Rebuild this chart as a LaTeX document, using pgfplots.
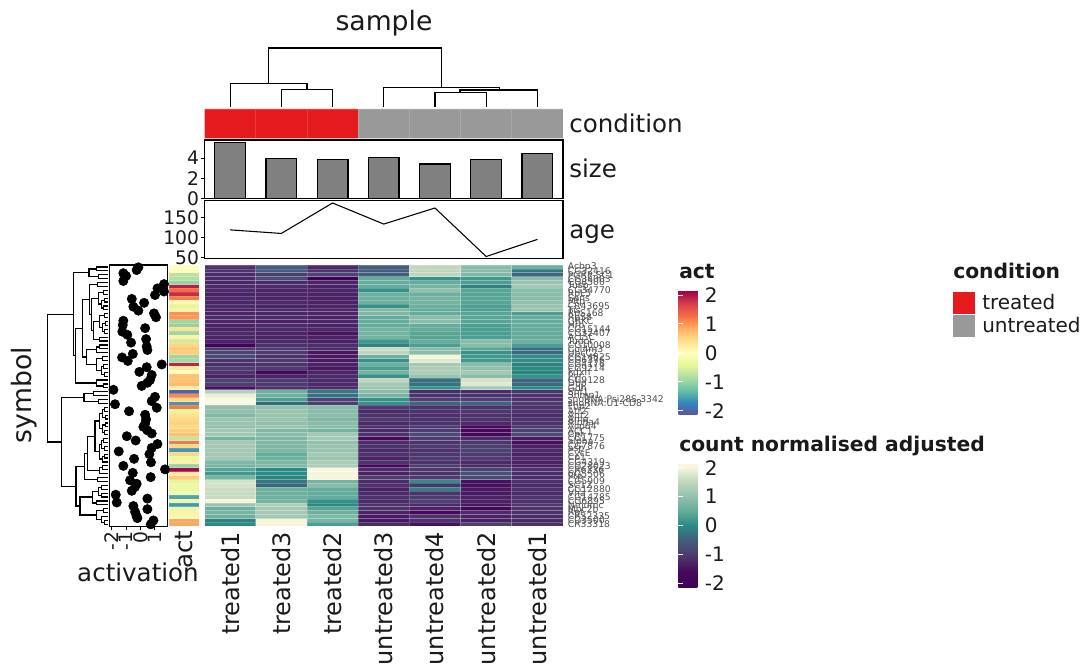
\documentclass[border=0pt]{standalone}
\usepackage{fontspec}
\setmainfont{DejaVu Sans}
\usepackage{pgfplots}
\usepackage{pgfplotstable}
\pgfplotsset{compat=1.18}

% picture units: 1 reference pixel = 0.75pt
\definecolor{ink}{HTML}{1A1A1A}
\definecolor{soft}{HTML}{4D4D4D}
\definecolor{condred}{HTML}{E41A1C}
\definecolor{condgrey}{HTML}{999999}
\newcommand\labelsz{\fontsize{18.4}{18.4}\selectfont}
\newcommand\keysz{\fontsize{15}{15}\selectfont}
\newcommand\keybf{\fontsize{15.2}{15.2}\selectfont\bfseries}

% heatmap tiles, one reference cell each
\pgfdeclareplotmark{heatcell}{\pgfpathrectangle{\pgfpoint{-19.2pt}{-1.4625pt}}{\pgfpoint{38.4pt}{2.925pt}}\pgfusepathqfillstroke}
\pgfdeclareplotmark{actcell}{\pgfpathrectangle{\pgfpoint{-11.14pt}{-1.4625pt}}{\pgfpoint{22.28pt}{2.925pt}}\pgfusepathqfillstroke}

\pgfplotsset{
  colormap={spectral}{
    rgb255=(94,79,162) rgb255=(50,136,189) rgb255=(102,194,165) rgb255=(171,221,164)
    rgb255=(230,245,152) rgb255=(255,255,191) rgb255=(254,224,139) rgb255=(253,174,97)
    rgb255=(244,109,67) rgb255=(213,62,79) rgb255=(158,1,66)},
  colormap={cnt}{
    rgb255(0pt)=(63,0,89) rgb255(11pt)=(70,8,90) rgb255(23pt)=(78,60,112)
    rgb255(33pt)=(66,94,124) rgb255(43pt)=(42,138,132) rgb255(53pt)=(100,172,155)
    rgb255(63pt)=(146,192,173) rgb255(73pt)=(191,213,190) rgb255(83pt)=(245,245,220)
    rgb255(86pt)=(248,248,224)},
  every axis/.append style={/pgf/number format/assume math mode=true},
  panel/.style n args={4}{at={(#1*0.75pt,#2*0.75pt)},anchor=south west,scale only axis,
    width=#3*0.75pt,height=#4*0.75pt},
  samplex/.style={xmin=0.5,xmax=7.5},
  frame/.style={axis line style={black,line width=1pt},tick style={black,line width=0.8pt},
    tick align=outside,major tick length=3pt,xtick=\empty,ytick pos=left,
    yticklabel style={font=\fontsize{14}{14}\selectfont,text=ink},tick label style={inner sep=1pt}},
  barkey/.style={xmin=0,xmax=1,ymin=-2.15,ymax=2.15,xtick=\empty,ytick={-2,-1,0,1,2},
    axis line style={draw=none},tick align=inside,major tick length=3.75pt,
    tick style={white,line width=.7pt},major tick style={white,line width=.7pt},
    ytick pos=both,yticklabel pos=right,
    yticklabel style={font=\keysz,text=ink,inner sep=1pt}},
  barshade/.style={hide axis,xmin=0,xmax=1,ymin=0,ymax=1,point meta min=-2.15,point meta max=2.15,
    colorbar,colorbar shift/.style={},
    colorbar style={at={(parent axis.south west)},anchor=south west,scale only axis,
      width=25*0.75pt,height=124.3*0.75pt,ytick=\empty,axis line style={draw=none}}},
}

% one value per cell: treated1 treated3 treated2 untreated3 untreated4 untreated2 untreated1
\pgfplotstableread[row sep=\\]{
z\\
-1.1\\ -.5\\ -1.2\\ -.5\\ 1.5\\ .9\\ .6\\
-1.1\\ -.5\\ -1.1\\ -.5\\ 1.5\\ .9\\ -.2\\
-1.2\\ -1.0\\ -.85\\ -.5\\ 1.5\\ .8\\ -.4\\
-1.2\\ -.75\\ -2.1\\ .5\\ .1\\ .2\\ .9\\
-1.25\\ -1.2\\ -1.25\\ .5\\ .5\\ .3\\ 1.1\\
-1.2\\ -1.2\\ -1.3\\ .5\\ .7\\ -.1\\ 1.2\\
-1.2\\ -1.25\\ -1.25\\ .1\\ 1.0\\ .4\\ .9\\
-1.3\\ -1.25\\ -1.3\\ .6\\ .6\\ .4\\ .9\\
-1.2\\ -1.25\\ -1.3\\ .6\\ .7\\ .4\\ .9\\
-1.25\\ -1.2\\ -1.3\\ .6\\ .7\\ .4\\ 1.0\\
-1.2\\ -1.25\\ -1.25\\ .1\\ .6\\ .3\\ 1.1\\
-1.25\\ -1.2\\ -1.25\\ .8\\ .5\\ .3\\ 1.1\\
-1.25\\ -1.25\\ -1.25\\ .8\\ .5\\ .4\\ .3\\
-1.2\\ -1.2\\ -1.3\\ .5\\ .9\\ .4\\ .5\\
-1.25\\ -1.3\\ -1.25\\ .5\\ .9\\ .4\\ .5\\
-1.3\\ -1.2\\ -1.3\\ .5\\ .5\\ .3\\ .5\\
-1.25\\ -1.2\\ -1.2\\ .7\\ .5\\ .3\\ .5\\
-1.2\\ -1.25\\ -1.45\\ .7\\ .4\\ .3\\ .5\\
-1.25\\ -1.25\\ -1.3\\ .7\\ .4\\ .3\\ .5\\
-1.3\\ -1.2\\ -1.3\\ .2\\ .5\\ .9\\ .6\\
-1.9\\ -1.1\\ -1.15\\ -.1\\ .3\\ .9\\ .3\\
-1.0\\ -1.0\\ -1.2\\ 1.6\\ .9\\ .4\\ -.3\\
-.85\\ -1.0\\ -1.45\\ 1.5\\ .9\\ .1\\ -.4\\
-.8\\ -1.1\\ -1.4\\ .6\\ 2.0\\ .2\\ .05\\
-1.1\\ -1.0\\ -1.4\\ .1\\ 1.8\\ .2\\ .05\\
-1.15\\ -1.1\\ -1.3\\ .6\\ 1.2\\ .9\\ -.1\\
-1.0\\ -1.0\\ -1.4\\ .3\\ 1.3\\ 1.0\\ .0\\
-1.1\\ -1.6\\ -1.25\\ .7\\ 1.3\\ 1.2\\ -.1\\
-1.3\\ -1.3\\ -1.2\\ .1\\ 1.1\\ .9\\ .1\\
-.9\\ -1.0\\ -1.2\\ 1.5\\ -.3\\ 1.7\\ -.4\\
-.95\\ -1.0\\ -1.2\\ 1.2\\ -.3\\ 1.8\\ -.4\\
-1.5\\ -1.1\\ -1.2\\ 1.1\\ .1\\ 1.2\\ .0\\
1.4\\ .6\\ -.2\\ .9\\ -1.2\\ -1.2\\ -1.1\\
1.9\\ .6\\ -.3\\ .7\\ -1.1\\ -1.1\\ -1.1\\
2.15\\ .3\\ -.9\\ .1\\ -.9\\ -.9\\ -1.1\\
2.15\\ -.4\\ -.95\\ .1\\ -.4\\ -.4\\ -1.0\\
1.0\\ 1.0\\ .9\\ -1.0\\ -1.1\\ -1.1\\ -1.1\\
1.0\\ 1.1\\ .9\\ -1.2\\ -1.1\\ -1.05\\ -1.1\\
.8\\ 1.1\\ .9\\ -1.1\\ -1.15\\ -1.1\\ -1.2\\
1.1\\ 1.1\\ .8\\ -1.0\\ -1.1\\ -1.1\\ -1.1\\
1.1\\ 1.0\\ .9\\ -1.2\\ -1.1\\ -1.2\\ -1.1\\
1.0\\ 1.1\\ .9\\ -1.1\\ -1.0\\ -1.6\\ -1.0\\
1.2\\ .8\\ .7\\ -1.2\\ -1.0\\ -1.6\\ -.9\\
1.2\\ .9\\ 1.2\\ -1.1\\ -.8\\ -1.7\\ -.8\\
.7\\ .8\\ 1.2\\ -1.6\\ -1.0\\ -1.2\\ -1.4\\
1.2\\ .8\\ 1.0\\ -1.2\\ -1.1\\ -1.05\\ -1.5\\
1.2\\ .8\\ 1.1\\ -1.1\\ -1.0\\ -.95\\ -1.3\\
1.2\\ .8\\ 1.1\\ -1.2\\ -1.1\\ -.9\\ -1.2\\
1.2\\ .5\\ 1.2\\ -1.1\\ -1.05\\ -1.0\\ -1.3\\
1.2\\ .6\\ 1.1\\ -1.3\\ -1.0\\ -1.0\\ -1.2\\
.8\\ .8\\ 1.3\\ -1.1\\ -1.1\\ -1.2\\ -1.3\\
.7\\ .8\\ 1.3\\ -1.7\\ -1.0\\ -1.2\\ -1.3\\
.4\\ 0\\ 2.1\\ -1.2\\ -1.05\\ -.9\\ -1.1\\
.2\\ 0\\ 2.0\\ -1.3\\ -1.1\\ -.7\\ -1.2\\
.7\\ -.1\\ 2.0\\ -1.0\\ -1.0\\ -.8\\ -1.2\\
1.7\\ -.2\\ .7\\ -1.2\\ .05\\ -1.5\\ -1.1\\
1.7\\ -.4\\ .9\\ -1.1\\ -1.1\\ -1.5\\ -1.2\\
1.6\\ .6\\ .5\\ -1.3\\ -.1\\ -1.4\\ -1.1\\
1.6\\ .6\\ .5\\ -1.2\\ -1.1\\ -1.4\\ -1.2\\
1.6\\ .6\\ .5\\ -1.1\\ -1.0\\ -1.3\\ -1.1\\
2.0\\ .7\\ .1\\ -1.2\\ -.9\\ -1.3\\ -1.1\\
1.1\\ 1.3\\ .0\\ -1.1\\ -1.2\\ -1.4\\ -1.05\\
.6\\ 1.2\\ .4\\ -1.1\\ -1.3\\ -1.7\\ -1.1\\
.7\\ 1.2\\ .6\\ -1.3\\ -1.6\\ -1.2\\ -1.1\\
.6\\ 1.2\\ .8\\ -1.4\\ -1.1\\ -1.3\\ -1.2\\
-.1\\ 2.0\\ .7\\ -1.4\\ -1.1\\ -1.3\\ -1.2\\
0\\ 2.0\\ .3\\ -1.2\\ -1.5\\ -.9\\ -1.1\\
}\heat
% row and column of each cell; the .5 guards against rounding in the division
\pgfplotstablecreatecol[expr={floor((\pgfplotstablerow+0.5)/7)+1}]{cy}{\heat}
\pgfplotstablecreatecol[expr={\pgfplotstablerow-7*floor((\pgfplotstablerow+0.5)/7)+1}]{cx}{\heat}

% act annotation, one value per row
\pgfplotstableread[row sep=\\]{
z\\
-.02\\ -.05\\ -.75\\ -.8\\ -1.0\\ 1.95\\ 1.3\\ 1.85\\
1.2\\ .1\\ -.4\\ .2\\ 1.05\\ 1.0\\ -.95\\ -1.0\\
.4\\ -.95\\ .2\\ -.6\\ .5\\ .65\\ .6\\ -.95\\
-.9\\ 1.9\\ .3\\ -.02\\ .7\\ .7\\ .75\\ .25\\
-2.0\\ 1.1\\ .5\\ -1.6\\ 1.2\\ -.4\\ .4\\ .5\\
.55\\ .5\\ .6\\ .7\\ -.7\\ 1.2\\ .5\\ -1.6\\
.5\\ -.3\\ .2\\ -1.0\\ 2.1\\ .3\\ .6\\ -.4\\
-.3\\ -.3\\ -.2\\ -1.5\\ -.3\\ -1.6\\ -.3\\ .2\\
-.2\\ .9\\ .9\\
}\act
\pgfplotstablecreatecol[expr={\pgfplotstablerow+1}]{cy}{\act}

\begin{document}
\begin{tikzpicture}
\path[clip,use as bounding box] (0,0) rectangle (810pt,500.25pt);

% sample dendrogram
\begin{axis}[panel={204.5}{560}{358.5}{60},samplex,ymin=0,ymax=60,hide axis,clip=false,unbounded coords=jump]
  \addplot[black,line width=0.9pt] coordinates {
    (1,0)(1,23.4)(2.5,23.4)(2.5,17.4) (nan,nan)
    (2,0)(2,17.4)(3,17.4)(3,0) (nan,nan)
    (1.75,23.4)(1.75,59)(5.12,59)(5.12,19.4) (nan,nan)
    (4,0)(4,19.4)(6.26,19.4)(6.26,17) (nan,nan)
    (5.49,14.4)(5.49,17)(7,17)(7,0) (nan,nan)
    (5,0)(5,14.4)(6,14.4)(6,0)
  };
\end{axis}

% condition
\begin{axis}[panel={204.5}{528.5}{358.5}{29.5},samplex,ymin=0,ymax=1,hide axis]
  \addplot[ybar,bar width=1,bar shift=0pt,fill=condred,draw=white,draw opacity=.15,line width=.5pt]
    coordinates {(1,1)(2,1)(3,1)};
  \addplot[ybar,bar width=1,bar shift=0pt,fill=condgrey,draw=white,draw opacity=.15,line width=.5pt]
    coordinates {(4,1)(5,1)(6,1)(7,1)};
\end{axis}

% size
\begin{axis}[panel={204.5}{468.5}{358.5}{58.5},samplex,frame,ymin=0,ymax=5.79,ytick={0,2,4}]
  \addplot[ybar,bar width=0.6,bar shift=0pt,fill=black!50,draw=black,line width=1pt] coordinates {
    (1,5.53)(2,3.94)(3,3.88)(4,4.08)(5,3.42)(6,3.88)(7,4.43)};
\end{axis}

% age
\begin{axis}[panel={204.5}{408.3}{358.5}{58.4},samplex,frame,ymin=46.5,ymax=193.4,ytick={50,100,150}]
  \addplot[black,line width=.8pt] coordinates {
    (1,119)(2,110)(3,186.6)(4,133.6)(5,174)(6,52)(7,95)};
\end{axis}

% main heatmap
\begin{axis}[panel={204.5}{140.7}{358.5}{261.3},y dir=reverse,
    xmin=0.5,xmax=7.5,ymin=0.5,ymax=67.5,axis line style={draw=none},
    colormap name=cnt,point meta min=-2.15,point meta max=2.15,
    xtick={1,...,7},xticklabels={treated1,treated3,treated2,untreated3,untreated4,untreated2,untreated1},
    xticklabel style={rotate=90,anchor=east,font=\fontsize{18}{18}\selectfont,text=ink,inner sep=0pt},
    xtick pos=bottom,major tick length=0pt,tick style={draw=none},
    xticklabel shift=4pt,
    ytick={1,...,67},ytick pos=right,yticklabel pos=right,
    yticklabel style={font=\fontsize{6.9}{6.9}\selectfont,text=soft,inner sep=0pt},
    yticklabel shift=3.5pt,
    yticklabels={Acbp3,CG32416,PGRP-SC1,CG34003,CG8500,Tusp,CG34770,RpL5,Sans,Mtp,CR43695,Tis,RpS168,RpS8,GRKC,Hrb,CG15144,CG32407,Act5C,Tudor,CG10008,Col4m3,UbcC2,CG14825,CG6376,CG4176,CG9214,Fdxh,Pvr,CG9128,Dbp,Gdh,
      Shf1,Snmp1,snoRNA:Psi28S-3342,snoRNA:U1-CD8,Fbp2,Atf2,Ant2,Ama,Alpha4,Acp64,ACC1,Cpr,CG1775,alpha,CG7876,asp,CycE,Cp1,CG4319,CG28023,CR6336,CG5506,Ptp,CG5909,SC12,CG12880,Vha,CG14785,CG6895,Nmdmc,Mbc2b,Rpt,CR32335,CG3500,CR33318}]
  \addplot[scatter,only marks,mark=heatcell,point meta=explicit,
      scatter/use mapped color={draw=white,fill=mapped color},
      mark options={draw opacity=.2,line width=.5pt}]
    table[x=cx,y=cy,meta=z]{\heat};
\end{axis}

% act strip
\begin{axis}[panel={169.3}{140.7}{29.7}{261.3},y dir=reverse,
    xmin=0.5,xmax=1.5,ymin=0.5,ymax=67.5,axis line style={draw=none},
    colormap name=spectral,point meta min=-2.15,point meta max=2.15,
    xtick={1},xticklabels={act},ytick=\empty,
    xticklabel style={rotate=90,anchor=east,font=\labelsz,text=ink,inner sep=0pt},
    xticklabel shift=3pt,major tick length=0pt,tick style={draw=none}]
  \addplot[scatter,only marks,mark=actcell,point meta=explicit,
      scatter/use mapped color={draw=white,fill=mapped color},
      mark options={draw opacity=.12,line width=.5pt}]
    table[x expr=1,y=cy,meta=z]{\act};
\end{axis}

% activation scatter
\begin{axis}[panel={109.3}{140.7}{58.4}{261.3},y dir=reverse,clip=false,
    xmin=-2.17,xmax=1.907,ymin=0.5,ymax=67.5,ytick=\empty,
    axis line style={black,line width=1pt},
    xtick={-2,-1,0,1},xtick pos=bottom,tick align=outside,major tick length=3pt,
    tick style={black,line width=.8pt},
    xticklabel style={rotate=90,anchor=east,font=\fontsize{14}{14}\selectfont,text=ink,inner sep=1pt}]
  \addplot[only marks,mark=*,mark size=3.5pt,black] coordinates {
    (-.14,1.1)(-.26,1.8)(-1.19,2.6)(-1.0,3.3)(-1.19,4.6)(1.65,5.4)(1.19,6.5)(1.65,7.3)(1.02,8.2)
    (-.6,9.2)(.26,10.2)(-.49,11.2)(-.14,12.2)(.95,12.9)(1.09,13.9)(-1.19,14.8)(-1.23,15.9)(.33,16.7)
    (-1.26,17.6)(-.91,18.4)(.4,19.5)(-.65,20.4)(.44,21.4)(.49,22.3)(-.53,23.3)(-1.28,24.2)(-.88,25.1)
    (1.49,26)(.44,26.7)(-.07,27.9)(.79,28.7)(.67,30)(.49,30.7)(.09,31.5)(-1.88,32.5)
    (1.02,34.3)(.79,35.4)(-1.77,36.2)(1.14,37.1)(-.79,38)(.33,38.9)(.4,40.1)(.33,41.2)(.21,42)
    (.49,42.9)(.79,43.7)(-.95,44.4)(-.33,45.5)(1.19,46.4)(.79,47.4)(-1.51,48.3)(.63,49)(-.44,50.2)
    (.74,51.1)(-1.19,52)(1.72,52.9)(-.53,53.8)(.72,54.9)(-.72,55.7)(-.26,56.6)(-.37,57.4)(-.6,58.4)
    (-1.72,59.4)(.49,60.4)(-1.65,61.4)(-.49,62.3)(.49,63.1)(-.37,63.8)(-.26,64.9)(-.21,65.4)(.91,66)(.72,67)
  };
\end{axis}

% symbol dendrogram: each fork is child, joint, joint, child
\begin{axis}[panel={47}{140.7}{61.3}{261.3},y dir=reverse,x dir=reverse,hide axis,clip=false,
    xmin=0,xmax=61.3,ymin=0.5,ymax=67.5,unbounded coords=jump]
  \addplot[black,line width=.9pt] coordinates {
    (0,1)(11.7,1)(11.7,2)(0,2) (nan,nan) (0,3)(10,3)(10,4)(0,4) (nan,nan)
    (11.7,1.5)(19.3,1.5)(19.3,3.5)(10,3.5) (nan,nan)
    (0,5)(11,5)(11,6)(0,6) (nan,nan) (0,7)(5,7)(5,8)(0,8) (nan,nan)
    (0,9)(4,9)(4,10)(0,10) (nan,nan) (0,11)(5,11)(5,12)(0,12) (nan,nan)
    (4,9.5)(7,9.5)(7,11.5)(5,11.5) (nan,nan) (5,7.5)(10,7.5)(10,10.5)(7,10.5) (nan,nan)
    (0,13)(3.5,13)(3.5,14)(0,14) (nan,nan) (0,15)(3,15)(3,16)(0,16) (nan,nan)
    (0,17)(4,17)(4,18)(0,18) (nan,nan) (3,15.5)(6,15.5)(6,17.5)(4,17.5) (nan,nan)
    (3.5,13.5)(9,13.5)(9,16.5)(6,16.5) (nan,nan) (0,19)(9,19)(9,20)(0,20) (nan,nan)
    (9,15)(15,15)(15,19.5)(9,19.5) (nan,nan) (10,9)(17,9)(17,17.25)(15,17.25) (nan,nan)
    (11,5.5)(18.5,5.5)(18.5,13.1)(17,13.1) (nan,nan)
    (0,21)(9,21)(9,22)(0,22) (nan,nan) (9,21.5)(12,21.5)(12,23)(0,23) (nan,nan)
    (0,24)(6,24)(6,25)(0,25) (nan,nan) (0,26)(5,26)(5,27)(0,27) (nan,nan)
    (0,28)(4,28)(4,29)(0,29) (nan,nan) (5,26.5)(7,26.5)(7,28.5)(4,28.5) (nan,nan)
    (6,24.5)(12,24.5)(12,27.5)(7,27.5) (nan,nan) (12,22.25)(21.7,22.25)(21.7,26)(12,26) (nan,nan)
    (18.5,9.3)(26,9.3)(26,24.1)(21.7,24.1) (nan,nan)
    (0,31)(5,31)(5,32)(0,32) (nan,nan) (0,30)(11.7,30)(11.7,31.5)(5,31.5) (nan,nan)
    (26,16.7)(32.7,16.7)(32.7,30.75)(11.7,30.75) (nan,nan)
    (19.3,2.5)(35,2.5)(35,23.7)(32.7,23.7) (nan,nan)
    (0,33)(15,33)(15,34)(0,34) (nan,nan) (0,35)(10,35)(10,36)(0,36) (nan,nan)
    (15,33.5)(24.3,33.5)(24.3,35.5)(10,35.5) (nan,nan)
    (0,37)(4,37)(4,38)(0,38) (nan,nan) (0,39)(3,39)(3,40)(0,40) (nan,nan)
    (4,37.5)(6,37.5)(6,39.5)(3,39.5) (nan,nan) (0,41)(3,41)(3,42)(0,42) (nan,nan)
    (0,43)(4,43)(4,44)(0,44) (nan,nan) (3,41.5)(6,41.5)(6,43.5)(4,43.5) (nan,nan)
    (6,38.5)(9,38.5)(9,42.5)(6,42.5) (nan,nan)
    (0,45)(5,45)(5,46)(0,46) (nan,nan) (0,47)(4,47)(4,48)(0,48) (nan,nan)
    (5,45.5)(7,45.5)(7,47.5)(4,47.5) (nan,nan) (0,49)(3.5,49)(3.5,50)(0,50) (nan,nan)
    (3.5,49.5)(6,49.5)(6,51)(0,51) (nan,nan) (7,46.5)(9,46.5)(9,50.25)(6,50.25) (nan,nan)
    (9,40.5)(13.3,40.5)(13.3,48.4)(9,48.4) (nan,nan)
    (0,52)(6,52)(6,53)(0,53) (nan,nan) (6,52.5)(9,52.5)(9,54)(0,54) (nan,nan)
    (13.3,44.45)(20.7,44.45)(20.7,53.25)(9,53.25) (nan,nan)
    (0,55)(11,55)(11,56)(0,56) (nan,nan) (20.7,48.85)(24,48.85)(24,55.5)(11,55.5) (nan,nan)
    (0,57)(7,57)(7,58)(0,58) (nan,nan) (0,59)(7,59)(7,60)(0,60) (nan,nan)
    (7,57.5)(10,57.5)(10,59.5)(7,59.5) (nan,nan) (0,61)(12,61)(12,62)(0,62) (nan,nan)
    (10,58.5)(16,58.5)(16,61.5)(12,61.5) (nan,nan)
    (0,63)(5,63)(5,64)(0,64) (nan,nan) (0,66)(4,66)(4,67)(0,67) (nan,nan)
    (0,65)(7,65)(7,66.5)(4,66.5) (nan,nan) (5,63.5)(12,63.5)(12,65.75)(7,65.75) (nan,nan)
    (16,60)(28.3,60)(28.3,64.6)(12,64.6) (nan,nan)
    (24,52.2)(32.3,52.2)(32.3,62.3)(28.3,62.3) (nan,nan)
    (24.3,34.5)(46.7,34.5)(46.7,57.25)(32.3,57.25) (nan,nan)
    (35,13.1)(60.7,13.1)(60.7,45.9)(46.7,45.9)
  };
\end{axis}

% act colour bar, shade first and the white ticks over it
\begin{axis}[panel={678.3}{252}{25}{124.3},barshade,colormap name=spectral]
  \addplot[draw=none] coordinates {(0,0)(1,1)};
\end{axis}
\begin{axis}[panel={678.3}{252}{25}{124.3},barkey]
  \addplot[draw=none] coordinates {(0,0)(1,1)};
\end{axis}

% count colour bar
\begin{axis}[panel={678.3}{79.3}{25}{124.3},barshade,colormap name=cnt]
  \addplot[draw=none] coordinates {(0,0)(1,1)};
\end{axis}
\begin{axis}[panel={678.3}{79.3}{25}{124.3},barkey]
  \addplot[draw=none] coordinates {(0,0)(1,1)};
\end{axis}

% titles and the condition key, placed in reference pixels
\begin{scope}[x=0.75pt,y=0.75pt,every node/.style={inner sep=0pt,text=ink}]
  \node[font=\fontsize{20}{20}\selectfont] at (384,644) {sample};
  \node[font=\labelsz,anchor=base west] at (569,534) {condition};
  \node[font=\labelsz,anchor=base west] at (569,489) {size};
  \node[font=\labelsz,anchor=base west] at (569,428) {age};
  \node[font=\fontsize{20}{20}\selectfont,rotate=90] at (24,272) {symbol};
  \node[font=\labelsz] at (138,95) {activation};
  \node[font=\keybf,anchor=base west] at (679,388) {act};
  \node[font=\keybf,anchor=base west] at (679,215) {count normalised adjusted};
  \node[font=\keybf,anchor=base west] at (953,388) {condition};
  \fill[condred] (953.3,353) rectangle (975,375);
  \fill[condgrey] (953.3,329.7) rectangle (975,351.7);
  \node[font=\keysz,anchor=base west] at (982,357) {treated};
  \node[font=\keysz,anchor=base west] at (982,334) {untreated};
\end{scope}
\end{tikzpicture}
\end{document}
